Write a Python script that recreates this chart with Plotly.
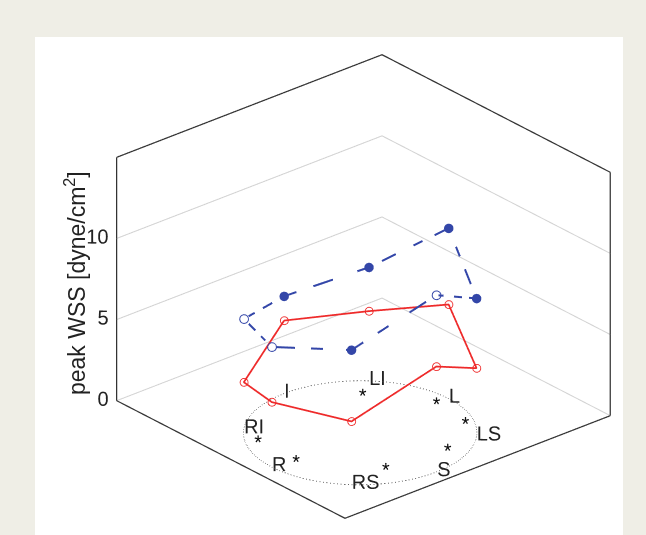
import numpy as np
import plotly.graph_objects as go

# ---------------- data ----------------
directions = ["I", "LI", "L", "LS", "S", "RS", "R", "RI"]
angle_deg = [180, 135, 90, 45, 0, -45, -90, -135]
red_wss = [4.5, 4.3, 5.8, 4.2, 6.5, 3.9, 4.0, 2.9]
blue_wss = [6.0, 7.0, 10.5, 8.5, 10.9, 8.3, 7.4, 6.8]
blue_open = [False, False, False, False, True, False, True, True]
star_x = [-0.55, -0.01, 0.44, 0.73, 0.66, 0.04, -0.46]
star_y = [0.50, 0.87, 0.81, 0.36, -0.28, -0.76, -0.76]
z_ticks = [0, 5, 10]
z_tick_labels = ["0", "5", "10"]
grid_levels = [0, 5, 10]
X_RANGE = [-1.84, 1.16]
Y_RANGE = [-1.17, 1.83]
Z_RANGE = [0, 15]

FONT = "Liberation Sans, Arial, sans-serif"

ang = np.deg2rad(angle_deg)
px = list(np.cos(ang))
py = list(np.sin(ang))
loop_x = px + px[:1]
loop_y = py + py[:1]
red_loop = red_wss + red_wss[:1]
blue_loop = blue_wss + blue_wss[:1]

x0, x1 = X_RANGE
y0, y1 = Y_RANGE
z0, z1 = Z_RANGE

# scene padding so that the frame lines are not clipped at the range limits
M = 1.2


def padded(r, m):
    c, h = (r[0] + r[1]) / 2, (r[1] - r[0]) / 2
    return [c - h * m, c + h * m]


# text nudges (screen pixels -> data offsets for this fixed view)
def nudge(right_px, up_px):
    return (0.00567 * right_px, 0.0065 * right_px, up_px / 16.13)


lab_dx, lab_dy, lab_dz = nudge(-18, 3)
tick_dx, tick_dy, tick_dz = nudge(11, 2)

fig = go.Figure()

# grid lines on back walls
for g in grid_levels:
    fig.add_trace(go.Scatter3d(
        x=[x0, x0, x1], y=[y0, y1, y1], z=[g, g, g], mode="lines",
        line=dict(color="#d2d2d2", width=2), hoverinfo="skip", showlegend=False))

# box edges
edge_col = "#333333"
for ex, ey, ez in [
    ([x0, x0, x1], [y0, y1, y1], [z1, z1, z1]),
    ([x0, x0], [y0, y0], [z0, z1]),
    ([x1, x1], [y1, y1], [z0, z1]),
    ([x0, x1, x1], [y0, y0, y1], [z0, z0, z0]),
]:
    fig.add_trace(go.Scatter3d(x=ex, y=ey, z=ez, mode="lines",
                               line=dict(color=edge_col, width=2.5),
                               hoverinfo="skip", showlegend=False))

# dotted reference circle
t = np.linspace(0, 2 * np.pi, 181)
fig.add_trace(go.Scatter3d(x=np.cos(t), y=np.sin(t), z=np.zeros_like(t), mode="lines",
                           line=dict(color="#444444", width=1.5, dash="dot"),
                           hoverinfo="skip", showlegend=False))

# stars (measurement locations)
fig.add_trace(go.Scatter3d(x=star_x, y=star_y, z=[0.12] * len(star_x), mode="text",
                           text=["*"] * len(star_x), textposition="middle center",
                           textfont=dict(family=FONT, size=20, color="#111111"),
                           hoverinfo="skip", showlegend=False))

# direction labels
fig.add_trace(go.Scatter3d(x=[v + lab_dx for v in px], y=[v + lab_dy for v in py],
                           z=[lab_dz] * len(px), mode="text",
                           text=directions, textposition="middle right",
                           textfont=dict(family=FONT, size=20, color="#222222"),
                           hoverinfo="skip", showlegend=False))

# red series
fig.add_trace(go.Scatter3d(x=loop_x, y=loop_y, z=red_loop, mode="lines+markers",
                           line=dict(color="#ee2a2a", width=3.5),
                           marker=dict(symbol="circle-open", size=5, color="#ee2a2a"),
                           showlegend=False))

# blue series
blue_sym = ["circle-open" if o else "circle" for o in blue_open]
fig.add_trace(go.Scatter3d(x=loop_x, y=loop_y, z=blue_loop, mode="lines+markers",
                           line=dict(color="#3346a8", width=4, dash="longdashdot"),
                           marker=dict(symbol=blue_sym + blue_sym[:1], size=5.5, color="#3346a8"),
                           showlegend=False))

# z tick labels
fig.add_trace(go.Scatter3d(x=[x0 + tick_dx] * len(z_ticks), y=[y0 + tick_dy] * len(z_ticks),
                           z=[v + tick_dz for v in z_ticks],
                           mode="text", text=z_tick_labels, textposition="middle left",
                           textfont=dict(family=FONT, size=20, color="#222222"),
                           hoverinfo="skip", showlegend=False))

eye_dir = np.array([0.6763, -0.5859, 0.4463])
eye = eye_dir * 2.0
S = 1.403 * M

ax_hidden = dict(visible=False)
fig.update_layout(
    width=646, height=535,
    margin=dict(l=0, r=0, t=0, b=0),
    paper_bgcolor="#efeee6",
    plot_bgcolor="#efeee6",
    shapes=[dict(type="rect", xref="paper", yref="paper",
                 x0=35 / 646, x1=623 / 646, y0=0, y1=1 - 37 / 535,
                 fillcolor="white", line=dict(width=0), layer="below")],
    scene=dict(
        domain=dict(x=[0.1254, 1.0], y=[0.0, 0.929]),
        xaxis=dict(ax_hidden, range=padded(X_RANGE, M)),
        yaxis=dict(ax_hidden, range=padded(Y_RANGE, M)),
        zaxis=dict(ax_hidden, range=padded(Z_RANGE, M)),
        aspectmode="manual",
        aspectratio=dict(x=1.0 * S, y=1.007 * S, z=0.78 * S),
        bgcolor="rgba(0,0,0,0)",
        camera=dict(projection=dict(type="orthographic"),
                    eye=dict(x=eye[0], y=eye[1], z=eye[2]),
                    up=dict(x=0, y=0, z=1), center=dict(x=0, y=0, z=0)),
    ),
    annotations=[dict(text="peak WSS [dyne/cm<sup>2</sup>]", textangle=-90,
                      x=58 / 646, y=1 - 283 / 535, xref="paper", yref="paper",
                      showarrow=False, font=dict(family=FONT, size=23, color="#222222"))],
)

fig.write_html("out.html", config={"displayModeBar": False},
               post_script="document.body.style.margin='0px';"
                           "document.body.style.background='#efeee6';")
